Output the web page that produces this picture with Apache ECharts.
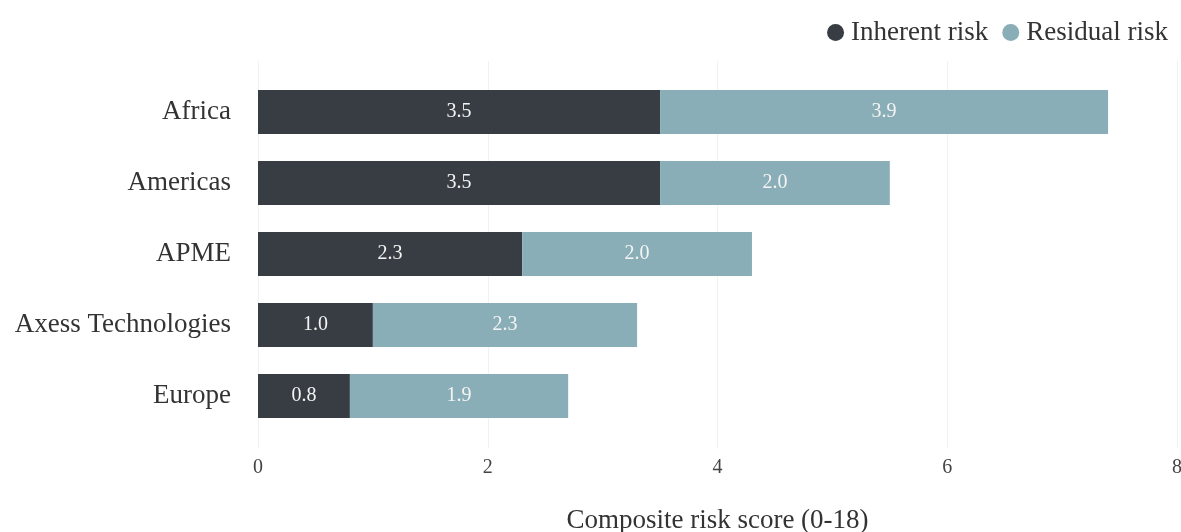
<!DOCTYPE html>
<html>
<head>
<meta charset="utf-8">
<style>
  html, body { margin: 0; padding: 0; background: #ffffff; }
  #chart { width: 1181px; height: 532px; }
</style>
<script src="https://cdn.jsdelivr.net/npm/echarts@6/dist/echarts.min.js"></script>
</head>
<body>
<div id="chart"></div>
<script>
// Regions, top to bottom
const regions = ['Africa', 'Americas', 'APME', 'Axess Technologies', 'Europe'];
// Composite risk score components per region
const inherentRisk = [3.5, 3.5, 2.3, 1.0, 0.8];
const residualRisk = [3.9, 2.0, 2.0, 2.3, 1.9];
// Value axis ticks
const xTicks = [0, 2, 4, 6, 8];

const FONT = '"Liberation Serif", "DejaVu Serif", serif';
const DARK = '#383d44';
const LIGHT = '#8aaeb7';

const chart = echarts.init(document.getElementById('chart'), null, { renderer: 'canvas' });

const barLabel = {
  show: true,
  position: 'inside',
  color: '#f4f4f4',
  fontFamily: FONT,
  fontSize: 20,
  formatter: p => p.value.toFixed(1)
};

chart.setOption({
  animation: false,
  backgroundColor: '#ffffff',
  legend: {
    top: 14,
    right: 8,
    icon: 'circle',
    itemWidth: 17,
    itemHeight: 17,
    itemGap: 14,
    textStyle: { fontFamily: FONT, fontSize: 27, color: '#333333', padding: [0, 0, 0, 2] },
    data: ['Inherent risk', 'Residual risk']
  },
  // grid 0 holds the bars; grid 1 spans a little taller and carries the value axis and gridlines
  grid: [
    { left: 258, right: 4, top: 76.5, height: 355, outerBoundsMode: 'none' },
    { left: 258, right: 4, top: 61, height: 387, outerBoundsMode: 'none' }
  ],
  xAxis: [
    {
      gridIndex: 0,
      type: 'value',
      min: xTicks[0],
      max: xTicks[xTicks.length - 1],
      interval: 2,
      show: false
    },
    {
      gridIndex: 1,
      type: 'value',
      min: xTicks[0],
      max: xTicks[xTicks.length - 1],
      interval: 2,
      axisLine: { show: false },
      axisTick: { show: false },
      splitLine: { show: true, lineStyle: { color: '#edf2f3', width: 1 } },
      axisLabel: { fontFamily: FONT, fontSize: 20, color: '#444444', margin: 10 },
      name: 'Composite risk score (0-18)',
      nameLocation: 'middle',
      nameGap: 59,
      nameTextStyle: { fontFamily: FONT, fontSize: 27, color: '#333333' }
    }
  ],
  yAxis: [
    {
      gridIndex: 0,
      type: 'category',
      data: regions,
      inverse: true,
      axisLine: { show: false },
      axisTick: { show: false },
      axisLabel: { fontFamily: FONT, fontSize: 27, color: '#333333', margin: 27 }
    },
    {
      gridIndex: 1,
      type: 'value',
      show: false
    }
  ],
  series: [
    {
      name: 'Inherent risk',
      type: 'bar',
      stack: 'score',
      xAxisIndex: 0,
      yAxisIndex: 0,
      barCategoryGap: '38%',
      data: inherentRisk,
      itemStyle: { color: DARK },
      label: barLabel
    },
    {
      name: 'Residual risk',
      type: 'bar',
      stack: 'score',
      xAxisIndex: 0,
      yAxisIndex: 0,
      barCategoryGap: '38%',
      data: residualRisk,
      itemStyle: { color: LIGHT },
      label: barLabel
    }
  ]
});
</script>
</body>
</html>
